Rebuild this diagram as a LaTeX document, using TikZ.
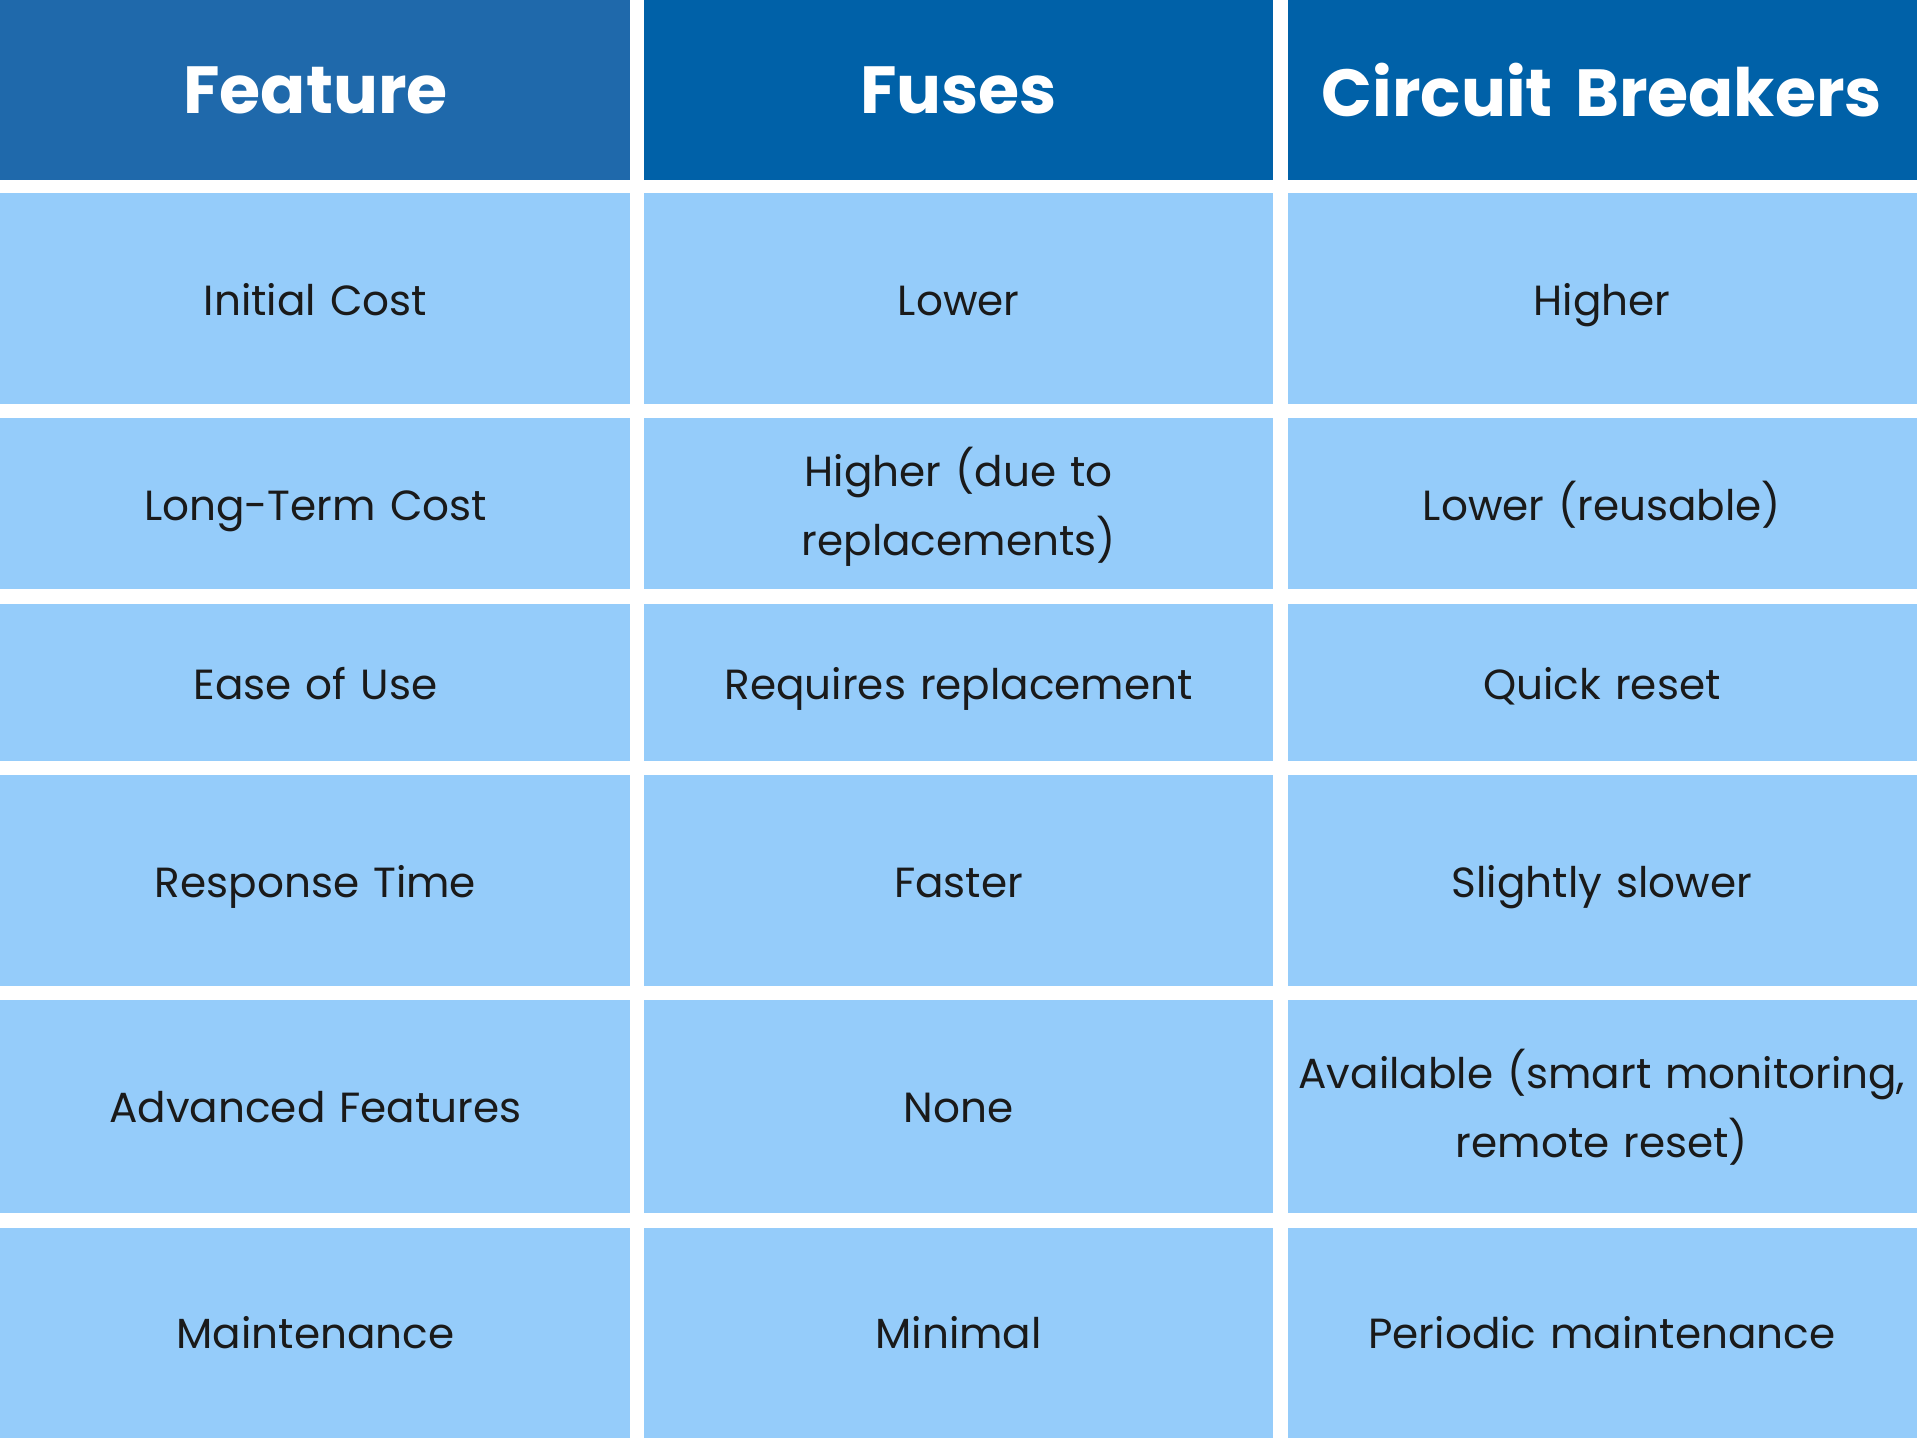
\documentclass[tikz,border=0pt]{standalone}
\usepackage{fontspec}
\setmainfont{Poppins}
\definecolor{headA}{HTML}{1F69AB}
\definecolor{headB}{HTML}{0061A8}
\definecolor{cellbg}{HTML}{95CCFA}
\definecolor{celltext}{HTML}{1A1A1A}
\tikzset{
  cell/.style={inner sep=0pt, text width=5.1cm, align=center, anchor=base,
    text=celltext, font=\fontsize{9.8}{16}\selectfont},
  head/.style={inner sep=0pt, text width=4.9cm, align=center,
    text=white, font=\fontsize{15.5}{18}\selectfont\bfseries},
}
\begin{document}
\begin{tikzpicture}[x=0.01cm,y=-0.01cm]
		\fill[white] (0,0) rectangle (1568,1176);

		% Kopfzeile
		\fill[headA] (0,0) rectangle (515,147);
		\fill[headB] (527,0) rectangle (1041,147);
		\fill[headB] (1053,0) rectangle (1568,147);
		\node[head] (hfeature) at (258,74) {Feature};
		\node[head] (hfuses) at (784,74) {Fuses};
		\node[head] (hbreakers) at (1310,74) {Circuit Breakers};

		% Zellen
		\foreach \ytop/\ybot in {158/330, 342/482, 494/622, 634/806, 818/992, 1004/1176} {
			\fill[cellbg] (0,\ytop) rectangle (515,\ybot);
			\fill[cellbg] (527,\ytop) rectangle (1041,\ybot);
			\fill[cellbg] (1053,\ytop) rectangle (1568,\ybot);
		}

		% Texte (Grundlinie)
		\node[cell] (cost) at (258,258) {Initial Cost};
		\node[cell] (costF) at (784,258) {Lower};
		\node[cell] (costB) at (1310,258) {Higher};

		\node[cell] (longterm) at (258,426) {Long-Term Cost};
		\node[cell] (longtermF) at (784,398) {Higher (due to\\replacements)};
		\node[cell] (longtermB) at (1310,426) {Lower (reusable)};

		\node[cell] (ease) at (258,572) {Ease of Use};
		\node[cell] (easeF) at (784,572) {Requires replacement};
		\node[cell] (easeB) at (1310,572) {Quick reset};

		\node[cell] (response) at (258,734) {Response Time};
		\node[cell] (responseF) at (784,734) {Faster};
		\node[cell] (responseB) at (1310,734) {Slightly slower};

		\node[cell] (advanced) at (258,918) {Advanced Features};
		\node[cell] (advancedF) at (784,918) {None};
		\node[cell, text width=5.2cm] (advancedB) at (1310,890) {Available (smart monitoring,\\remote reset)};

		\node[cell] (maint) at (258,1103) {Maintenance};
		\node[cell] (maintF) at (784,1103) {Minimal};
		\node[cell] (maintB) at (1310,1103) {Periodic maintenance};
	\end{tikzpicture}
\end{document}
